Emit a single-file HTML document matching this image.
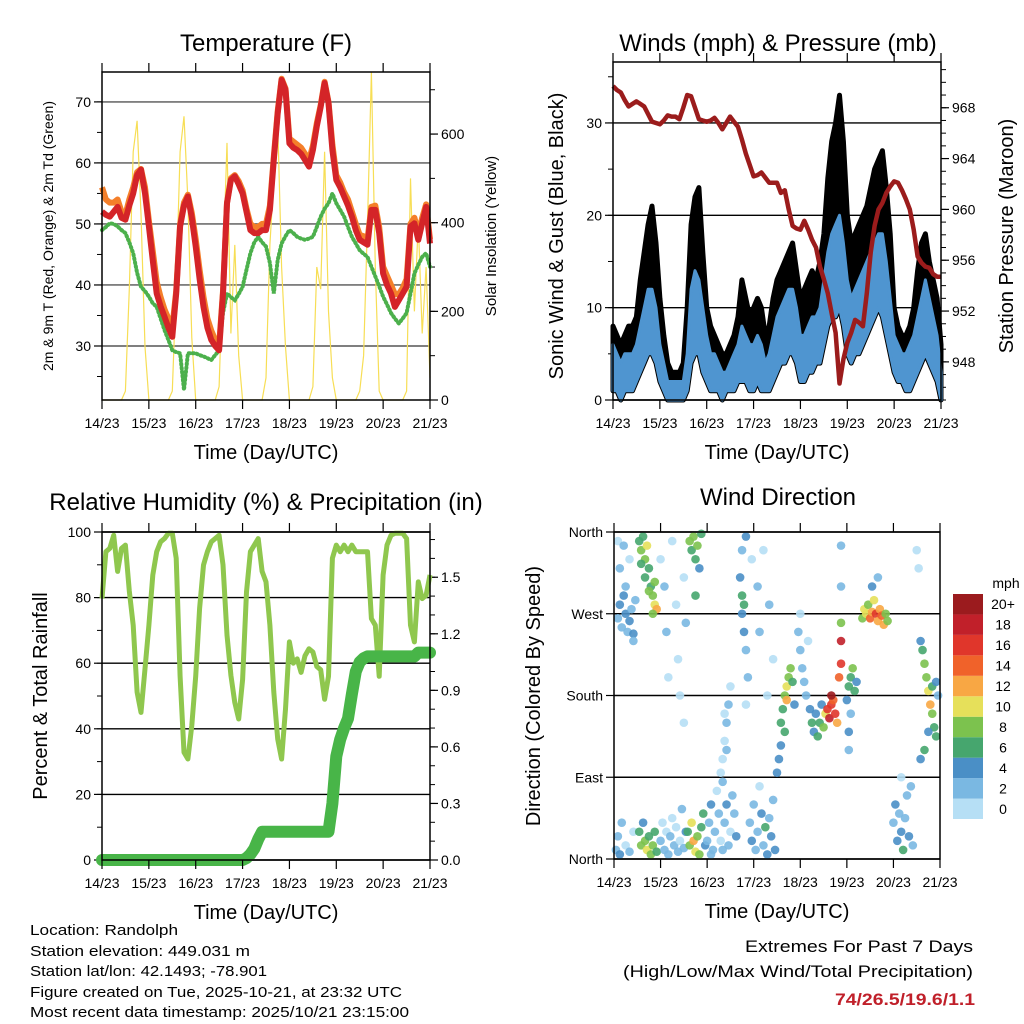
<!DOCTYPE html>
<html><head><meta charset="utf-8"><style>
html,body{margin:0;padding:0;background:#fff}
svg{display:block;font-family:"Liberation Sans",sans-serif}
</style></head><body>
<svg id="root" width="1024" height="1024" viewBox="0 0 1024 1024">
<g id="layer"></g>
<g font-size="15" fill="#000">
<text x="30" y="935" textLength="148" lengthAdjust="spacingAndGlyphs">Location: Randolph</text>
<text x="30" y="956" textLength="220" lengthAdjust="spacingAndGlyphs">Station elevation: 449.031 m</text>
<text x="30" y="976" textLength="237" lengthAdjust="spacingAndGlyphs">Station lat/lon: 42.1493; -78.901</text>
<text x="30" y="997" textLength="372" lengthAdjust="spacingAndGlyphs">Figure created on Tue, 2025-10-21, at 23:32 UTC</text>
<text x="30" y="1017" textLength="379" lengthAdjust="spacingAndGlyphs">Most recent data timestamp: 2025/10/21 23:15:00</text>
<text x="973" y="952" font-size="17" text-anchor="end" textLength="228" lengthAdjust="spacingAndGlyphs">Extremes For Past 7 Days</text>
<text x="973" y="977" font-size="17" text-anchor="end" textLength="350" lengthAdjust="spacingAndGlyphs">(High/Low/Max Wind/Total Precipitation)</text>
<text x="975" y="1005" font-size="17" font-weight="bold" fill="#c0202a" text-anchor="end" textLength="140" lengthAdjust="spacingAndGlyphs">74/26.5/19.6/1.1</text>
</g>
</svg>
<script>
// ---- data (2-hourly, hours 0..168 from 14/23) ----
const dayLabels=["14/23","15/23","16/23","17/23","18/23","19/23","20/23","21/23"];
const tempRed=[52,51.5,51.2,52,52.8,51,50.7,53,55,58,58.9,55,49.6,44,38.6,36.5,34.8,33,31.5,38.6,49.6,53,54.5,51,46.3,41,36.4,33,31,30,29.3,38.6,53.4,57.2,57.8,56.5,55,52,49,48.5,48.5,49,49,52.3,60.5,68.1,73.6,72,63.2,62.5,62.1,61.5,60.5,59.4,62.1,66,69.2,73.1,69.8,62.1,57.2,56,54.5,53,51.2,49,47.4,47,46.6,52.3,52.3,48.5,41.9,40,38.6,36.4,37.5,38.6,39.7,49.6,50.1,47.4,50.1,52.8,46.8];
const tempOrange=[56,54,53.5,53.5,54,52,51.5,54,56,58.5,59,56,50.5,45.5,40.5,38,36,34.5,33,39,50,53.5,54.8,51.8,47.5,42.5,38,34.5,32.5,31,30,39,53.5,57.5,58,57,55.5,52.5,50,49.5,49.5,50,50,53,61,68.5,73.8,72.2,64,63.5,63,62.5,61.5,60.5,62.8,66.5,69.5,73.3,70,63,58,56.8,55.2,54,52,50,48.2,48,47.5,52.8,53,49.5,43,41.5,40,38.5,38.5,39.5,41,50,51,48.5,51,53.2,47.5];
const dewGreen=[49,49.5,50.1,50,49.6,49,48.5,47,45.2,42,39.7,39,38.1,37,36.4,34.5,32.6,31,29.3,29,28.8,22.8,28.8,28.8,28.8,28.5,28.3,28,27.7,28.5,29.3,35.4,38.6,38,37.5,38.5,39.7,42.5,45.2,47,47.9,47,46.3,43.6,38.6,44.1,46.8,48,49,48.5,47.9,47.6,47.4,47.6,47.9,49.5,51.2,52.5,53.4,55,53.4,52.3,51.2,49.5,47.9,46.8,45.7,45.1,44.6,43,41.4,39.8,38.1,36.8,35.4,34.5,33.7,34.5,35.4,38.6,41.9,43.3,44.6,45.2,43];
const solar=[0,0,0,0,0,0,20,250,560,630,420,120,0,0,0,0,0,0,20,260,560,640,450,140,0,0,0,0,0,0,30,300,580,150,350,100,0,0,0,0,0,0,50,350,500,625,300,120,0,0,0,0,0,0,30,300,250,560,200,50,0,0,0,0,0,0,20,100,400,740,300,20,0,0,0,0,0,0,20,500,200,400,150,300,50];
const windLo=[1,1,0,1,1,1,2,3,4,5,5,4,2,1,0,0,0,0,0,1,4,5,5,3,2,1,1,1,0,1,1,1,2,2,2,1,1,2,1,1,1,2,3,4,4,5,5,4,2,2,3,3,4,4,6,8,9,9,10,8,5,4,5,5,6,7,8,9,10,9,7,5,3,2,2,1,1,2,3,4,5,4,3,2,0];
const windHi=[6,5,4,5,5,5,6,8,10,12,12,10,6,4,2,2,2,2,2,5,12,14,13,10,7,5,5,4,3,3,4,5,6,8,7,6,6,7,6,4,5,7,9,10,11,12,12,10,7,7,8,9,9,10,13,16,18,19,20,17,13,11,12,13,14,15,16,17,18,18,15,11,7,6,5,5,6,7,9,11,13,11,9,7,3];
const gustHi=[8,7,6,7,8,8,9,13,16,19,21,17,11,7,4,3,3,3,4,10,19,22,23,16,10,8,7,6,5,5,6,7,9,13,11,9,10,11,10,7,8,11,13,14,15,16,17,14,11,12,13,14,13,15,18,24,28,30,33,28,20,17,18,19,20,21,23,25,26,27,23,18,10,8,7,7,8,10,14,17,18,15,13,11,6];
const pressure=[969.7,969.4,969.2,968.6,968.1,968.3,968.5,968.3,968.1,967.5,966.9,966.8,966.7,967,967.4,967.3,967.3,967.1,968,969,968.9,968,967.1,967,966.9,967,967.2,966.8,966.3,966.8,967.3,966.9,966.5,965.5,964.4,963.5,962.6,962.7,962.9,962.5,962.1,962.1,962.1,961.3,961.5,960,958.7,958.5,958.4,959.1,958.4,957.6,957,955.5,954.5,953.4,951.8,950.3,946.3,948.2,949.5,950.3,951.3,951.1,950.8,953.4,956.6,958.7,960,960.5,961.3,961.8,962.2,962.1,961.5,960.8,960,958.4,956.3,955.8,955.5,955.4,954.9,954.7,954.7];
const humidity=[79.7,94,95,99,88,95,96,82,71.6,51.2,45,58.3,71.6,86.9,94,97,98,99.6,99.6,92,56,32.8,30.8,41,56,76.7,89.9,94,97,98,99,90,68.6,56.3,48,43,55,81.7,94,96,98,88,84.8,71.6,51.2,36.9,30.8,46,66.5,60,61.3,57.2,62.3,64.4,63.4,59,58,49,56,92,96,94,96,94,96,94,94,94,94,73.6,71.6,56,86.9,96,99,99.6,99.6,99.6,98,71.6,66.5,84.8,79.7,80.7,86.9];
const precip=[0,0,0,0,0,0,0,0,0,0,0,0,0,0,0,0,0,0,0,0,0,0,0,0,0,0,0,0,0,0,0,0,0,0,0,0,0,0.01,0.03,0.06,0.11,0.15,0.15,0.15,0.15,0.15,0.15,0.15,0.15,0.15,0.15,0.15,0.15,0.15,0.15,0.15,0.15,0.15,0.15,0.3,0.55,0.64,0.7,0.75,0.88,1.0,1.05,1.07,1.08,1.08,1.08,1.08,1.08,1.08,1.08,1.08,1.08,1.08,1.08,1.08,1.08,1.1,1.1,1.1,1.1];
const dirHours=[2,3,4,5,6,7,8,9,10,11,6,3,8,2,5,10,1,2,3,4,6,8,10,13,14,15,16,17,18,19,20,21,22,16,18,14,20,21,13,14,15,16,17,18,19,20,21,22,24,26,27,28,30,32,33,34,36,37,36,24,25,26,27,28,29,30,31,32,33,34,35,36,37,39,40,41,42,43,44,45,42,38,39,40,41,42,43,44,45,46,47,48,49,50,51,52,53,54,55,56,57,58,59,60,61,62,63,50,56,55,56,57,58,59,60,58,57,65,66,66,67,67,68,66,68,69,68,71,74,77,80,82,75,79,70,71,72,73,74,75,76,77,78,79,80,81,82,83,84,85,86,86,87,88,89,89,90,91,92,93,88,95,96,97,98,99,100,96,101,102,103,104,105,106,107,108,109,110,111,112,113,114,115,112,116,117,117,117,117,117,120,121,122,123,124,125,122,121,121,128,129,130,131,132,133,134,135,136,137,138,139,140,141,133,136,144,145,146,147,148,149,150,151,152,153,154,148,156,157,158,159,160,161,162,163,164,165,166,164,166,162,160,158,167];
const dirDegrees=[265,280,255,290,270,250,262,275,248,285,300,320,330,350,345,240,10,25,5,40,15,8,30,350,340,355,330,345,320,300,290,280,275,310,295,325,270,305,30,15,40,20,10,25,5,15,30,8,330,300,250,200,350,280,220,180,310,260,150,20,40,10,30,5,25,45,15,35,8,20,55,12,30,350,340,355,330,345,320,358,290,30,15,40,20,8,25,5,35,50,15,20,40,60,10,30,75,50,20,85,40,60,15,30,70,50,25,5,10,95,110,130,150,170,190,120,160,310,290,270,250,280,230,340,355,200,170,330,300,340,280,220,250,180,40,20,60,10,30,80,50,15,35,5,45,25,65,10,95,110,125,150,165,180,190,175,200,210,195,170,140,250,230,210,195,180,240,270,165,150,140,160,135,150,170,145,160,165,155,170,175,160,150,180,200,215,240,260,300,345,175,190,200,210,185,195,160,140,120,265,275,270,280,265,272,285,270,262,275,268,258,270,262,300,310,40,60,20,50,30,10,45,70,25,80,15,90,340,320,240,230,215,200,185,170,160,145,135,190,195,140,120,110,180];
const dirSpeeds=[3,4,3,4,4,3,4,3,4,2,2,2,1,1,2,3,3,2,4,2,1,2,1,6,8,7,9,10,6,7,8,10,12,6,9,7,9,8,6,8,5,9,10,7,8,9,6,7,1,2,2,1,1,1,1,0,1,2,1,2,1,2,1,2,3,1,2,1,2,1,3,2,4,8,7,9,6,8,5,7,6,7,9,10,12,11,9,8,6,7,4,3,2,4,3,2,1,3,1,2,3,4,2,1,3,2,4,2,2,1,1,1,2,2,1,2,1,4,6,5,4,7,3,3,4,2,1,1,2,1,2,1,2,1,3,4,2,3,2,1,4,3,6,4,2,4,3,4,4,5,4,6,7,9,10,12,8,9,6,5,6,2,2,3,2,2,1,1,4,6,5,4,6,7,5,8,11,16,18,17,14,16,12,20,14,16,18,8,2,3,4,6,7,8,6,5,3,4,3,8,10,11,9,14,12,10,16,13,12,15,13,9,8,4,3,3,4,5,3,4,6,2,3,4,2,3,1,1,1,4,7,8,9,10,12,9,7,6,7,4,5,6,5,3];

// ---- helpers ----
const NS="http://www.w3.org/2000/svg";
const layer=document.getElementById('layer');
function mk(tag,attrs,parent){const e=document.createElementNS(NS,tag);for(const k in attrs)e.setAttribute(k,attrs[k]);(parent||layer).appendChild(e);return e;}
function lin(d0,d1,r0,r1){return v=>r0+(v-d0)*(r1-r0)/(d1-d0);}
const hours=tempRed.map((_,i)=>i*2);

function frame(P,name){
  const g=mk('g',{});
  
  
  return g;
}
function xAxis(P,g){
  const x=lin(0,168,P.x0,P.x1);
  for(let d=0;d<=7;d++){
    const xx=x(d*24);
    const t1=mk('line',{x1:xx,x2:xx,y1:P.y0,y2:P.y0-9,stroke:'#000','stroke-width':1.2},g);
    
    const t2=mk('line',{x1:xx,x2:xx,y1:P.y1,y2:P.y1+9,stroke:'#000','stroke-width':1.2},g);
    
    const t=mk('text',{x:xx,y:P.y1+28,'font-size':14,'text-anchor':'middle'},g);
    t.textContent=dayLabels[d];
    
  }
  const xt=mk('text',{x:(P.x0+P.x1)/2,y:P.y1+59,'font-size':20,'text-anchor':'middle'},g);
  xt.textContent='Time (Day/UTC)';
  
}
function yTicks(g,P,vals,labels,scale,side,grid,minorStep,lo,hi){
  const isL=side==='L';
  const xe=isL?P.x0:P.x1, dir=isL?-1:1;
  vals.forEach((v,i)=>{
    const yy=scale(v);
    if(grid){const gl=mk('line',{x1:P.x0,x2:P.x1,y1:yy,y2:yy,stroke:grid,'stroke-width':1.4},g);
      }
    mk('line',{x1:xe,x2:xe+dir*8,y1:yy,y2:yy,stroke:'#000','stroke-width':1.2},g);
    const t=mk('text',{x:isL?P.x0-11:P.x1+11,y:yy+5,'font-size':14,'text-anchor':isL?'end':'start'},g);
    t.textContent=labels[i];
    
  });
  if(minorStep){for(let v=lo;v<=hi+1e-9;v+=minorStep){const yy=scale(v);if(yy<P.y0||yy>P.y1)continue;
    mk('line',{x1:xe,x2:xe+dir*5,y1:yy,y2:yy,stroke:'#000','stroke-width':1},g);}}
}
function border(g,P){const r=mk('rect',{x:P.x0,y:P.y0,width:P.x1-P.x0,height:P.y1-P.y0,fill:'none',stroke:'#000','stroke-width':1.5},g);
  }
function title(g,x,y,txt,sz,rot,name){
  const t=mk('text',{x:x,y:y,'font-size':sz,'text-anchor':'middle'},g);
  if(rot)t.setAttribute('transform',`rotate(-90 ${x} ${y})`);
  t.textContent=txt;
  
}
function path(pts){return pts.map((p,i)=>(i?'L':'M')+p[0].toFixed(1)+','+p[1].toFixed(1)).join('');}

// ---- Panel 1: Temperature ----
(function(){
  const P={x0:102,x1:430,y0:72,y1:400};
  const g=frame(P,'temperature-panel');
  const x=lin(0,168,P.x0,P.x1), y=lin(21.15,74.9,P.y1,P.y0), ys=lin(0,740,P.y1,P.y0);
  yTicks(g,P,[30,40,50,60,70],['30','40','50','60','70'],y,'L','#555',5,25,75);
  yTicks(g,P,[0,200,400,600],['0','200','400','600'],ys,'R',null,100,0,700);
  const sol=mk('path',{d:path(hours.map((h,i)=>[x(h),ys(solar[i])])),fill:'none',stroke:'#f7de55','stroke-width':1.2},g);
  
  const dg=mk('path',{d:path(hours.map((h,i)=>[x(h),y(dewGreen[i])])),fill:'none',stroke:'#4cb04c','stroke-width':4,'stroke-dasharray':'1 3','stroke-linecap':'round'},g);
  
  const or=mk('path',{d:path(hours.map((h,i)=>[x(h),y(tempOrange[i])])),fill:'none',stroke:'#f47f2a','stroke-width':6,'stroke-linejoin':'round'},g);
  
  const rd=mk('path',{d:path(hours.map((h,i)=>[x(h),y(tempRed[i])])),fill:'none',stroke:'#d42428','stroke-width':6,'stroke-linejoin':'round'},g);
  
  border(g,P);xAxis(P,g);
  title(g,266,51,'Temperature (F)',24,false,'temperature-title');
  title(g,53,236,'2m & 9m T (Red, Orange) & 2m Td (Green)',14,true,'temp-y-title');
  title(g,496,236,'Solar Insolation (Yellow)',15,true,'solar-y-title');
})();

// ---- Panel 2: Winds & Pressure ----
(function(){
  const P={x0:613,x1:941,y0:62,y1:400};
  const g=frame(P,'winds-panel');
  const x=lin(0,168,P.x0,P.x1), y=lin(0,36.6,P.y1,P.y0), yp=lin(945.0,971.6,P.y1,P.y0);
  yTicks(g,P,[0,10,20,30],['0','10','20','30'],y,'L','#000',5,0,35);
  yTicks(g,P,[948,952,956,960,964,968],['948','952','956','960','964','968'],yp,'R',null,1,945,971);
  const gp=hours.map((h,i)=>[x(h),y(gustHi[i])]).concat(hours.map((h,i)=>[x(h),y(windLo[i])]).reverse());
  const ga=mk('path',{d:path(gp)+'Z',fill:'#000',stroke:'#000','stroke-width':5,'stroke-linejoin':'round'},g);
  
  const bp=hours.map((h,i)=>[x(h),y(windHi[i])]).concat(hours.map((h,i)=>[x(h),y(windLo[i])]).reverse());
  const ba=mk('path',{d:path(bp)+'Z',fill:'#4f95d0',stroke:'#4f95d0','stroke-width':3,'stroke-linejoin':'round'},g);
  
  const pl=mk('path',{d:path(hours.map((h,i)=>[x(h),yp(pressure[i])])),fill:'none',stroke:'#9b1c1c','stroke-width':4.5,'stroke-linejoin':'round'},g);
  
  border(g,P);xAxis(P,g);
  title(g,778,51,'Winds (mph) & Pressure (mb)',24,false,'winds-title');
  title(g,563,236,'Sonic Wind & Gust (Blue, Black)',20,true,'wind-y-title');
  title(g,1013,236,'Station Pressure (Maroon)',20,true,'pressure-y-title');
})();

// ---- Panel 3: RH & Precip ----
(function(){
  const P={x0:102,x1:430,y0:532,y1:860};
  const g=frame(P,'humidity-panel');
  const x=lin(0,168,P.x0,P.x1), y=lin(0,100,P.y1,P.y0), yr=lin(0,1.74,P.y1,P.y0);
  yTicks(g,P,[0,20,40,60,80,100],['0','20','40','60','80','100'],y,'L','#000',10,0,100);
  yTicks(g,P,[0,0.3,0.6,0.9,1.2,1.5],['0.0','0.3','0.6','0.9','1.2','1.5'],yr,'R',null,0.1,0,1.7);
  const rh=mk('path',{d:path(hours.map((h,i)=>[x(h),y(humidity[i])])),fill:'none',stroke:'#8fc74e','stroke-width':5,'stroke-linejoin':'round'},g);
  
  const pr=mk('path',{d:path(hours.map((h,i)=>[x(h),yr(precip[i])])),fill:'none',stroke:'#48b548','stroke-width':12,'stroke-linejoin':'round','stroke-linecap':'round'},g);
  
  border(g,P);xAxis(P,g);
  title(g,266,510,'Relative Humidity (%) & Precipitation (in)',24,false,'humidity-title');
  title(g,47,696,'Percent & Total Rainfall',20,true,'humidity-y-title');
})();

// ---- Panel 4: Wind Direction ----
const speedColors=['#b6dff5','#7ab8e2','#4a8fc6','#46a66e','#7cc24e','#e6e05a','#f8a744','#f0622a','#e0362b','#c1202a','#9b1b1e'];
const speedLabels=['0','2','4','6','8','10','12','14','16','18','20+'];
(function(){
  const P={x0:614,x1:940,y0:532,y1:859};
  const g=frame(P,'wind-direction-panel');
  const x=lin(0,168,P.x0,P.x1), y=lin(0,360,P.y1,P.y0);
  yTicks(g,P,[0,90,180,270,360],['North','East','South','West','North'],y,'L','#000',0,0,0);
  const dots=mk('g',{},g);
  
  dirHours.forEach((h,i)=>{
    const c=mk('circle',{cx:x(h),cy:y(dirDegrees[i]),r:4.3,fill:speedColors[Math.min(10,Math.floor(dirSpeeds[i]/2))],'fill-opacity':0.9},dots);
    
    
  });
  border(g,P);xAxis(P,g);
  title(g,778,505,'Wind Direction',24,false,'wind-direction-title');
  title(g,540,696,'Direction (Colored By Speed)',20,true,'direction-y-title');
  const cb=mk('g',{},layer);
  
  const h=225/11;
  speedColors.forEach((c,i)=>{
    const yy=819-(i+1)*h;
    const r=mk('rect',{x:953,y:yy,width:30,height:h,fill:c},cb);
    
    const t=mk('text',{x:1003,y:yy+h/2+5,'font-size':14,'text-anchor':'middle'},cb);
    t.textContent=speedLabels[i];
    
  });
  const u=mk('text',{x:1006,y:588,'font-size':14,'text-anchor':'middle'},cb);
  u.textContent='mph';
  
})();
</script>
</body></html>
